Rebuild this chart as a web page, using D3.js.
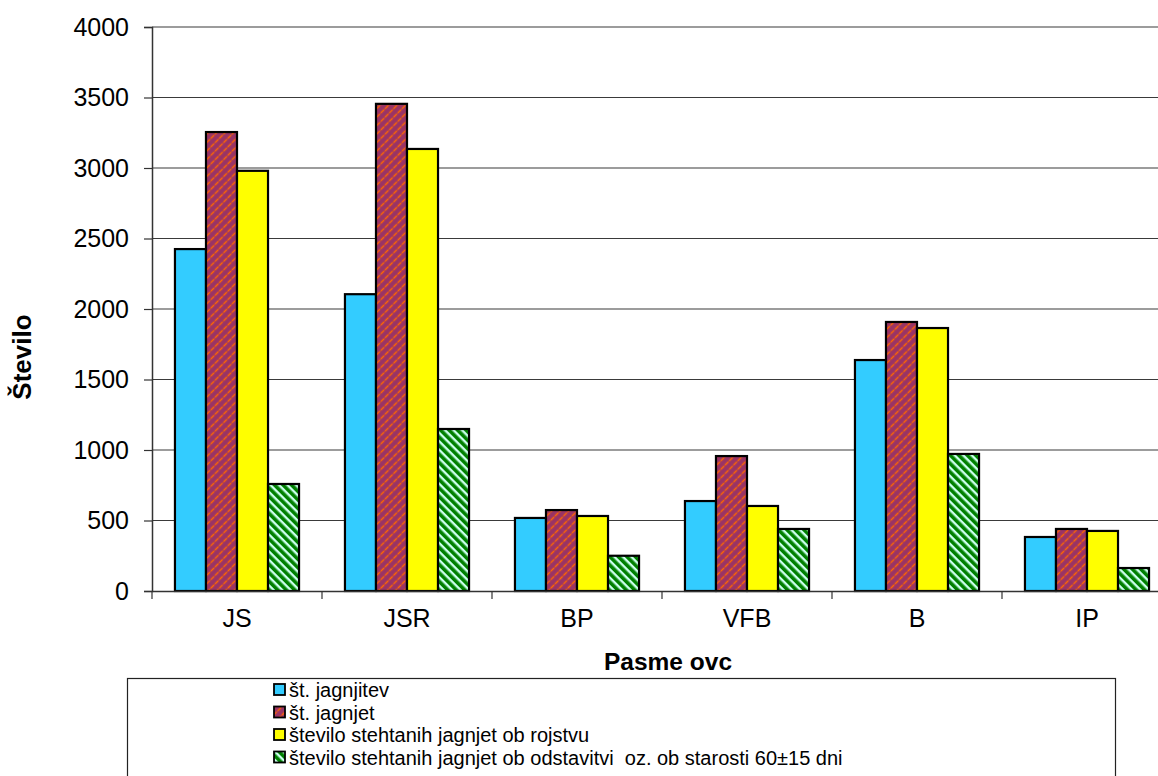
<!DOCTYPE html>
<html>
<head>
<meta charset="utf-8">
<script src="https://cdn.jsdelivr.net/npm/d3@7"></script>
<style>
  html, body { margin: 0; padding: 0; background: #fff; }
  svg { display: block; font-family: "Liberation Sans", Arial, sans-serif; }
</style>
</head>
<body>
<svg id="chart" width="1158" height="776"></svg>
<script>
// Breeds (categories) and the four counted series
const breeds = ["JS", "JSR", "BP", "VFB", "B", "IP"];
const seriesNames = [
  "št. jagnjitev",
  "št. jagnjet",
  "število stehtanih jagnjet ob rojstvu",
  "število stehtanih jagnjet ob odstavitvi  oz. ob starosti 60±15 dni"
];
const lambings      = [2425, 2105, 518, 638, 1638, 383];
const lambs         = [3255, 3455, 574, 957, 1908, 440];
const weighedBirth  = [2980, 3135, 532, 603, 1865, 426];
const weighedWean   = [759, 1149, 250, 440, 972, 163];
const yTicks = [0, 500, 1000, 1500, 2000, 2500, 3000, 3500, 4000];

const seriesValues = [lambings, lambs, weighedBirth, weighedWean];

const svg = d3.select("#chart");
const margin = { left: 152, top: 27, right: 1172, bottom: 591 };

// Fill patterns
const defs = svg.append("defs");
const pRed = defs.append("pattern")
  .attr("id", "patRed").attr("patternUnits", "userSpaceOnUse")
  .attr("width", 6).attr("height", 6)
  .attr("patternTransform", "rotate(-45)");
pRed.append("rect").attr("width", 6).attr("height", 6).attr("fill", "#993366");
pRed.append("line").attr("x1", 0).attr("y1", 1.5).attr("x2", 6).attr("y2", 1.5)
  .attr("stroke", "#ff6600").attr("stroke-width", 1.6).attr("stroke-dasharray", "2.5 1");

const pGreen = defs.append("pattern")
  .attr("id", "patGreen").attr("patternUnits", "userSpaceOnUse")
  .attr("width", 6).attr("height", 6)
  .attr("patternTransform", "rotate(45)");
pGreen.append("rect").attr("width", 6).attr("height", 6).attr("fill", "#008000");
pGreen.append("rect").attr("x", 0).attr("y", 0).attr("width", 6).attr("height", 2.4).attr("fill", "#ccffee");

const fills = ["#33ccff", "url(#patRed)", "#ffff00", "url(#patGreen)"];

const x = d3.scaleBand().domain(breeds).range([margin.left, margin.right]).paddingInner(0).paddingOuter(0);
const inner = d3.scaleBand().domain(d3.range(4)).range([0, x.bandwidth()]).paddingInner(0).paddingOuter(0.74);
const y = d3.scaleLinear().domain([0, 4000]).range([margin.bottom, margin.top]);

// Horizontal gridlines
svg.append("g").selectAll("line").data(yTicks.filter(d => d > 0)).join("line")
  .attr("x1", margin.left).attr("x2", margin.right)
  .attr("y1", d => y(d)).attr("y2", d => y(d))
  .attr("stroke", "#3a3a3a").attr("stroke-width", 1.2);

// Bars
const groups = svg.append("g").selectAll("g").data(breeds).join("g")
  .attr("transform", d => `translate(${x(d)},0)`);
groups.selectAll("rect").data((d, i) => seriesValues.map((s, k) => ({ k, v: s[i] }))).join("rect")
  .attr("x", d => inner(d.k))
  .attr("width", inner.bandwidth())
  .attr("y", d => y(d.v))
  .attr("height", d => y(0) - y(d.v))
  .attr("fill", d => fills[d.k])
  .attr("stroke", "#000").attr("stroke-width", 2.2);

// Y axis
const yAxis = svg.append("g").attr("transform", `translate(${margin.left},0)`)
  .call(d3.axisLeft(y).tickValues(yTicks).tickSize(8).tickPadding(15).tickFormat(d3.format("d")));
yAxis.select(".domain").attr("stroke", "#333").attr("stroke-width", 1.5);
yAxis.selectAll(".tick line").attr("stroke", "#333").attr("stroke-width", 1.2);
yAxis.selectAll("text").attr("font-size", 25).attr("fill", "#000").attr("font-family", "Liberation Sans, Arial, sans-serif");

// X axis
const xAxis = svg.append("g").attr("transform", `translate(0,${margin.bottom})`)
  .call(d3.axisBottom(x).tickSize(0).tickPadding(18));
xAxis.select(".domain").attr("stroke", "#333").attr("stroke-width", 1.5);
xAxis.selectAll("text").attr("font-size", 25).attr("fill", "#000").attr("font-family", "Liberation Sans, Arial, sans-serif");
// Category separator ticks
svg.append("g").selectAll("line").data(breeds).join("line")
  .attr("x1", d => x(d)).attr("x2", d => x(d))
  .attr("y1", margin.bottom).attr("y2", margin.bottom + 8)
  .attr("stroke", "#333").attr("stroke-width", 1.2);

// Axis titles
svg.append("text")
  .attr("transform", "translate(31,357) rotate(-90)")
  .attr("text-anchor", "middle")
  .attr("font-size", 26).attr("font-weight", "bold")
  .text("Število");
svg.append("text")
  .attr("x", 668).attr("y", 670)
  .attr("text-anchor", "middle")
  .attr("font-size", 24.5).attr("font-weight", "bold")
  .text("Pasme ovc");

// Legend
const legend = svg.append("g");
legend.append("rect").attr("x", 127.5).attr("y", 678.5).attr("width", 988).attr("height", 120)
  .attr("fill", "#fff").attr("stroke", "#222").attr("stroke-width", 1.2);
const items = legend.selectAll("g.item").data(seriesNames).join("g").attr("class", "item")
  .attr("transform", (d, i) => `translate(274,${690 + i * 22.5})`);
items.append("rect").attr("x", 0).attr("y", -6).attr("width", 11).attr("height", 11)
  .attr("fill", (d, i) => fills[i]).attr("stroke", "#000").attr("stroke-width", 1.8);
items.append("text").attr("x", 15).attr("y", 7)
  .attr("font-size", 20).attr("fill", "#000")
  .style("white-space", "pre")
  .text(d => d);
</script>
</body>
</html>
